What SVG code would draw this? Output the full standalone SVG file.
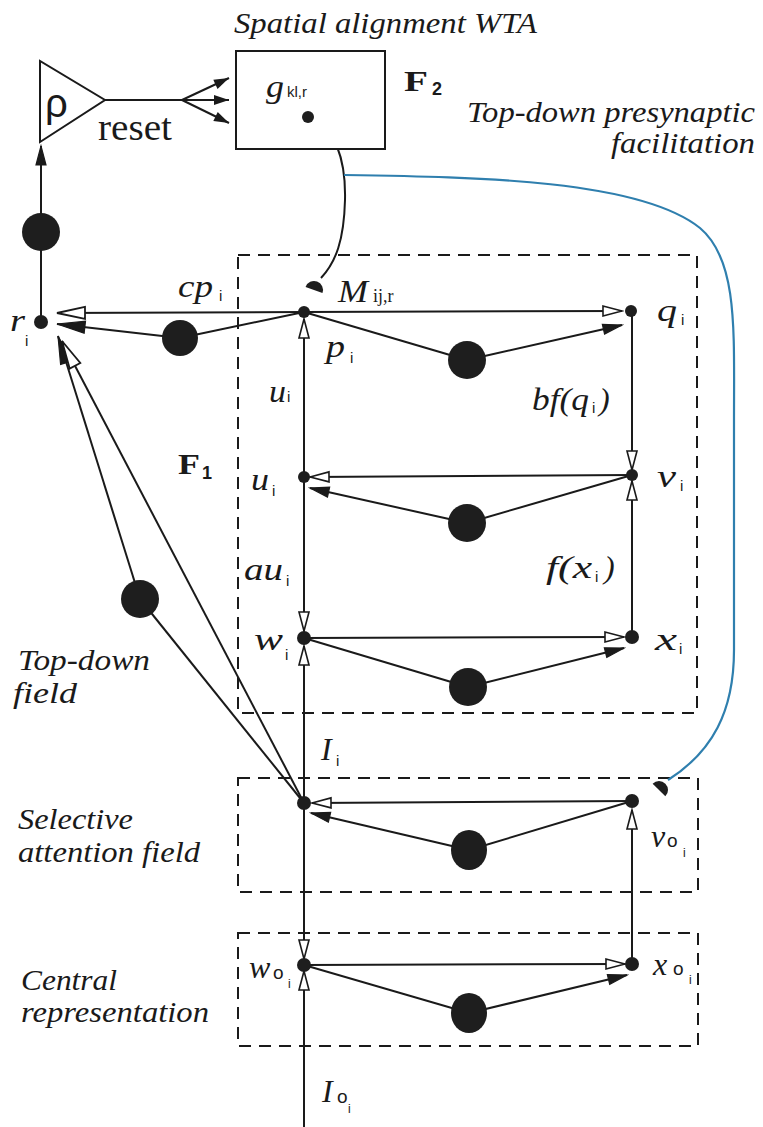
<svg xmlns="http://www.w3.org/2000/svg" width="763" height="1127" viewBox="0 0 763 1127">
<style>
.ln{stroke:#1a1a1a;stroke-width:2;fill:none}
.blue{stroke:#2f7fae;stroke-width:2.2;fill:none}
.dash{stroke:#1a1a1a;stroke-width:2;fill:none;stroke-dasharray:12 8}
.big{fill:#1e1e1e}
.dot{fill:#1e1e1e}
.serif{font-family:"Liberation Serif","Times New Roman",serif;fill:#1a1a1a}
.var{font-family:"Liberation Serif","Times New Roman",serif;font-style:italic;font-size:32px;fill:#1a1a1a}
.cap{font-family:"Liberation Serif","Times New Roman",serif;font-style:italic;font-size:30px;fill:#1a1a1a}
.sub{font-family:"Liberation Sans",Arial,sans-serif;font-size:15px;fill:#1a1a1a}
.osub{font-family:"Liberation Sans",Arial,sans-serif;font-size:19px;fill:#1a1a1a}
.isub{font-family:"Liberation Sans",Arial,sans-serif;font-size:12px;fill:#1a1a1a}
.bold{font-family:"Liberation Serif","Times New Roman",serif;font-weight:bold;font-size:30px;fill:#1a1a1a}
.bsub{font-family:"Liberation Sans",Arial,sans-serif;font-weight:bold;font-size:18px;fill:#1a1a1a}
</style>
<defs>
<marker id="op" viewBox="-22 -8 24 16" refX="0" refY="0" markerWidth="24" markerHeight="16" markerUnits="userSpaceOnUse" orient="auto"><path d="M0,0 L-19,-5 L-19,5 Z" fill="#fff" stroke="#1a1a1a" stroke-width="1.6"/></marker>
<marker id="fl" viewBox="-22 -8 24 16" refX="0" refY="0" markerWidth="24" markerHeight="16" markerUnits="userSpaceOnUse" orient="auto"><path d="M0,0 L-19,-5 L-19,5 Z" fill="#1a1a1a" stroke="#1a1a1a" stroke-width="1.2"/></marker>
<marker id="opL" viewBox="-32 -9 34 18" refX="0" refY="0" markerWidth="34" markerHeight="18" markerUnits="userSpaceOnUse" orient="auto"><path d="M0,0 L-28,-6 L-28,6 Z" fill="#fff" stroke="#1a1a1a" stroke-width="1.8"/></marker>
<marker id="flL" viewBox="-32 -9 34 18" refX="0" refY="0" markerWidth="34" markerHeight="18" markerUnits="userSpaceOnUse" orient="auto"><path d="M0,0 L-28,-6 L-28,6 Z" fill="#1a1a1a" stroke="#1a1a1a" stroke-width="1.2"/></marker>
<marker id="flS" viewBox="-18 -8 20 16" refX="0" refY="0" markerWidth="20" markerHeight="16" markerUnits="userSpaceOnUse" orient="auto"><path d="M0,0 L-15,-5 L-15,5 Z" fill="#1a1a1a"/></marker>
</defs>

<g id="fields">
<rect class="dash" x="238" y="255" width="459" height="458"/>
<rect class="dash" x="238" y="778" width="460" height="114"/>
<rect class="dash" x="238" y="933" width="460" height="113"/>
</g>

<g id="connectors">
<line class="ln" x1="41" y1="322" x2="41" y2="146" marker-end="url(#fl)"/>
<line class="ln" x1="105" y1="100" x2="182" y2="100"/>
<line class="ln" x1="182" y1="100" x2="229" y2="78" marker-end="url(#flS)"/>
<line class="ln" x1="182" y1="100" x2="229" y2="100" marker-end="url(#flS)"/>
<line class="ln" x1="182" y1="100" x2="229" y2="123" marker-end="url(#flS)"/>
<path class="ln" d="M308,117 C335,125 346,160 345,200 C344,240 336,262 321,278"/>
<path class="blue" d="M344,175 C480,177 640,180 700,228 C738,260 734,330 734,420 L734,650 C734,712 712,752 668,780"/>
<line class="ln" x1="304" y1="312" x2="57" y2="313" marker-end="url(#opL)"/>
<line class="ln" x1="304" y1="312" x2="180" y2="338"/>
<line class="ln" x1="180" y1="338" x2="57" y2="324" marker-end="url(#flL)"/>
<line class="ln" x1="304" y1="312" x2="622" y2="311" marker-end="url(#op)"/>
<line class="ln" x1="304" y1="312" x2="467" y2="360"/>
<line class="ln" x1="467" y1="360" x2="622" y2="325" marker-end="url(#fl)"/>
<line class="ln" x1="632" y1="311" x2="632" y2="470" marker-end="url(#op)"/>
<line class="ln" x1="632" y1="637" x2="632" y2="481" marker-end="url(#op)"/>
<line class="ln" x1="632" y1="475" x2="310" y2="477" marker-end="url(#op)"/>
<line class="ln" x1="632" y1="475" x2="467" y2="523"/>
<line class="ln" x1="467" y1="523" x2="310" y2="488" marker-end="url(#fl)"/>
<line class="ln" x1="304" y1="477" x2="304" y2="319" marker-end="url(#op)"/>
<line class="ln" x1="304" y1="477" x2="304" y2="631" marker-end="url(#op)"/>
<line class="ln" x1="304" y1="638" x2="624" y2="637" marker-end="url(#op)"/>
<line class="ln" x1="304" y1="638" x2="468" y2="687"/>
<line class="ln" x1="468" y1="687" x2="624" y2="648" marker-end="url(#fl)"/>
<line class="ln" x1="304" y1="803" x2="304" y2="646" marker-end="url(#op)"/>
<line class="ln" x1="632" y1="801" x2="312" y2="803" marker-end="url(#op)"/>
<line class="ln" x1="632" y1="801" x2="469" y2="850"/>
<line class="ln" x1="469" y1="850" x2="311" y2="813" marker-end="url(#fl)"/>
<line class="ln" x1="304" y1="803" x2="140" y2="599"/>
<line class="ln" x1="140" y1="599" x2="58" y2="336" marker-end="url(#flL)"/>
<line class="ln" x1="304" y1="803" x2="62" y2="341" marker-end="url(#opL)"/>
<line class="ln" x1="632" y1="964" x2="632" y2="810" marker-end="url(#op)"/>
<line class="ln" x1="304" y1="803" x2="304" y2="959" marker-end="url(#op)"/>
<line class="ln" x1="304" y1="965" x2="625" y2="964" marker-end="url(#op)"/>
<line class="ln" x1="304" y1="965" x2="469" y2="1013"/>
<line class="ln" x1="469" y1="1013" x2="627" y2="975" marker-end="url(#fl)"/>
<line class="ln" x1="304" y1="1127" x2="304" y2="971" marker-end="url(#op)"/>
</g>

<g id="interneurons">
<circle class="big" cx="41" cy="232" r="19"/>
<circle class="big" cx="180" cy="338" r="18"/>
<circle class="big" cx="467" cy="360" r="19"/>
<circle class="big" cx="467" cy="523" r="19"/>
<circle class="big" cx="468" cy="687" r="19"/>
<circle class="big" cx="140" cy="599" r="19"/>
<ellipse class="big" cx="469" cy="850" rx="18" ry="20"/>
<ellipse class="big" cx="469" cy="1013" rx="18" ry="20"/>
</g>

<g id="synapses">
<path class="big" d="M-9,0 A9,9 0 0 1 9,0 Z" transform="translate(314,290) rotate(20)"/>
<path class="big" d="M-9,0 A9,9 0 0 1 9,0 Z" transform="translate(659,790) rotate(45)"/>
</g>

<g id="rho">
<polygon points="40,61 40,142 105,100" fill="#fff" stroke="#1a1a1a" stroke-width="2"/>
<text x="45" y="117" font-family="Liberation Sans, Arial, sans-serif" font-size="40" fill="#1a1a1a">ρ</text>
<text class="serif" x="98" y="140" font-size="38" textLength="74" lengthAdjust="spacingAndGlyphs">reset</text>
</g>

<g id="F2">
<rect x="236" y="51" width="149" height="98" fill="#fff" stroke="#1a1a1a" stroke-width="2"/>
<text class="var" x="266" y="97" font-size="34" textLength="18" lengthAdjust="spacingAndGlyphs">g</text>
<text class="sub" x="287" y="97" font-size="18">kl,r</text>
<circle class="dot" cx="308" cy="117" r="6"/>
<text class="bold" x="404" y="91" textLength="24" lengthAdjust="spacingAndGlyphs">F</text>
<text class="bsub" x="432" y="95">2</text>
<text class="cap" x="234" y="33" textLength="303" lengthAdjust="spacingAndGlyphs">Spatial alignment WTA</text>
<text class="cap" x="467" y="122" textLength="288" lengthAdjust="spacingAndGlyphs">Top-down presynaptic</text>
<text class="cap" x="611" y="153" textLength="144" lengthAdjust="spacingAndGlyphs">facilitation</text>
</g>

<g id="r_node">
<circle class="dot" cx="41" cy="322" r="7"/>
<text class="var" x="10" y="331" textLength="15" lengthAdjust="spacingAndGlyphs">r</text>
<text class="sub" x="25" y="346">i</text>
<text class="var" x="178" y="297" font-size="34" textLength="35" lengthAdjust="spacingAndGlyphs">cp</text>
<text class="sub" x="219" y="301">i</text>
</g>

<g id="F1">
<text class="bold" x="178" y="474" textLength="22" lengthAdjust="spacingAndGlyphs">F</text>
<text class="bsub" x="202" y="479">1</text>
</g>

<g id="M_node">
<circle class="dot" cx="304" cy="312" r="6"/>
<text class="var" x="338" y="302" textLength="30" lengthAdjust="spacingAndGlyphs">M</text>
<text class="serif" x="373" y="302" font-size="18">ij,r</text>
<text class="var" x="326" y="357" textLength="19" lengthAdjust="spacingAndGlyphs">p</text>
<text class="sub" x="350" y="363">i</text>
<text class="var" x="269" y="402" textLength="17" lengthAdjust="spacingAndGlyphs">u</text>
<text class="sub" x="287" y="402">i</text>
</g>

<g id="q_node">
<circle class="dot" cx="631" cy="311" r="6"/>
<text class="var" x="657" y="321" font-size="34" textLength="20" lengthAdjust="spacingAndGlyphs">q</text>
<text class="sub" x="681" y="325">i</text>
<text class="var" x="532" y="410" font-size="34" textLength="57" lengthAdjust="spacingAndGlyphs">bf(q</text>
<text class="sub" x="592" y="413">i</text>
<text class="var" x="599" y="410" font-size="34">)</text>
</g>

<g id="u_node">
<circle class="dot" cx="304" cy="477" r="6"/>
<text class="var" x="251" y="490" textLength="18" lengthAdjust="spacingAndGlyphs">u</text>
<text class="sub" x="272" y="496">i</text>
<text class="var" x="244" y="580" textLength="39" lengthAdjust="spacingAndGlyphs">au</text>
<text class="sub" x="286" y="586">i</text>
</g>

<g id="v_node">
<circle class="dot" cx="632" cy="475" r="6"/>
<text class="var" x="657" y="487" textLength="19" lengthAdjust="spacingAndGlyphs">v</text>
<text class="sub" x="680" y="491">i</text>
<text class="var" x="546" y="578" textLength="46" lengthAdjust="spacingAndGlyphs">f(x</text>
<text class="sub" x="595" y="582">i</text>
<text class="var" x="604" y="578">)</text>
</g>

<g id="w_node">
<circle class="dot" cx="304" cy="638" r="7"/>
<text class="var" x="254" y="650" textLength="29" lengthAdjust="spacingAndGlyphs">w</text>
<text class="sub" x="285" y="660">i</text>
<text class="var" x="321" y="760">I</text>
<text class="sub" x="336" y="766">i</text>
</g>

<g id="x_node">
<circle class="dot" cx="632" cy="637" r="7"/>
<text class="var" x="655" y="650" textLength="22" lengthAdjust="spacingAndGlyphs">x</text>
<text class="sub" x="679" y="654">i</text>
</g>

<g id="attention_left">
<circle class="dot" cx="304" cy="803" r="7"/>
</g>

<g id="v_o_node">
<circle class="dot" cx="632" cy="801" r="7"/>
<text class="var" x="651" y="847" font-size="30">v</text>
<text class="osub" x="667" y="847">o</text>
<text class="isub" x="683" y="857">i</text>
</g>

<g id="w_o_node">
<circle class="dot" cx="304" cy="965" r="7"/>
<text class="var" x="249" y="978" font-size="30">w</text>
<text class="osub" x="273" y="979">o</text>
<text class="isub" x="288" y="988">i</text>
<text class="var" x="322" y="1102" font-size="30">I</text>
<text class="osub" x="337" y="1103">o</text>
<text class="isub" x="348" y="1113">i</text>
</g>

<g id="x_o_node">
<circle class="dot" cx="632" cy="964" r="7"/>
<text class="var" x="653" y="975" font-size="30">x</text>
<text class="osub" x="673" y="975">o</text>
<text class="isub" x="689" y="984">i</text>
</g>

<g id="field_labels">
<text class="cap" x="18" y="670" textLength="132" lengthAdjust="spacingAndGlyphs">Top-down</text>
<text class="cap" x="13" y="703" textLength="64" lengthAdjust="spacingAndGlyphs">field</text>
<text class="cap" x="18" y="829" textLength="115" lengthAdjust="spacingAndGlyphs">Selective</text>
<text class="cap" x="18" y="862" textLength="182" lengthAdjust="spacingAndGlyphs">attention field</text>
<text class="cap" x="21" y="990" font-size="28" textLength="96" lengthAdjust="spacingAndGlyphs">Central</text>
<text class="cap" x="21" y="1022" font-size="28" textLength="188" lengthAdjust="spacingAndGlyphs">representation</text>
</g>
</svg>
